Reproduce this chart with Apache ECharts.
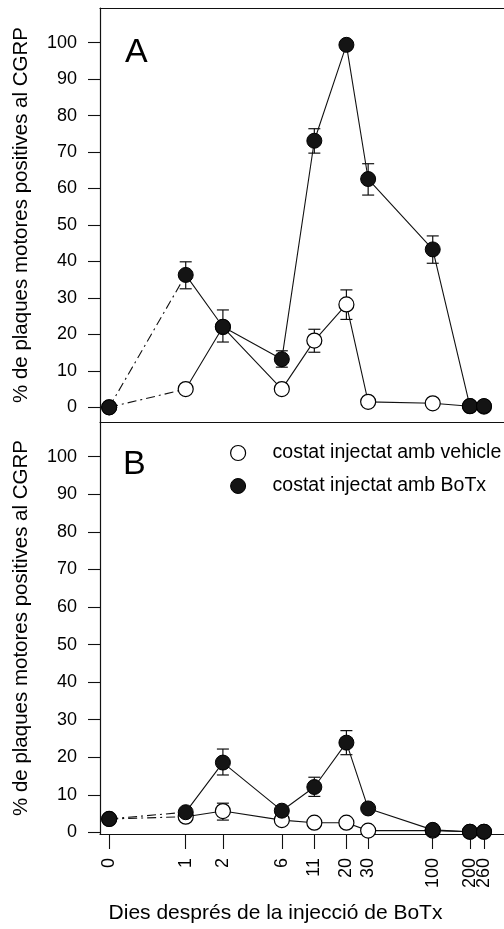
<!DOCTYPE html>
<html><head><meta charset="utf-8">
<script src="https://cdn.jsdelivr.net/npm/echarts@6/dist/echarts.min.js"></script>
<style>html,body{margin:0;padding:0;background:#fff}#c{width:504px;height:929px}</style>
</head><body><div id="c"></div>
<script>
// ---- data ----
const days = [0, 1, 2, 6, 11, 20, 30, 100, 200, 260];
const dayLabels = ['0', '1', '2', '6', '11', '20', '30', '100', '200', '260'];
const yTicks = [0, 10, 20, 30, 40, 50, 60, 70, 80, 90, 100];
const seriesNames = ['costat injectat amb vehicle', 'costat injectat amb BoTx'];
// Panel A
const vehA      = [0, 5, 22, 5, 18.3, 28.2, 1.5, 1.1, 0.3, 0.2];
const vehAErrLo = [null, null, null, null, 15.1, 24.1, null, null, null, null];
const vehAErrHi = [null, null, null, null, 21.4, 32.2, null, null, null, null];
const botA      = [0, 36.3, 22.1, 13.2, 73.1, 99.4, 62.6, 43.3, 0.35, 0.35];
const botAErrLo = [null, 32.5, 17.9, 11.0, 69.7, null, 58.2, 39.5, null, null];
const botAErrHi = [null, 39.9, 26.7, 15.5, 76.4, null, 66.8, 47.0, null, null];
// Panel B
const vehB      = [3.6, 4.2, 5.7, 3.3, 2.6, 2.6, 0.5, 0.5, 0.2, 0.2];
const vehBErrLo = [null, null, 3.3, null, null, null, null, null, null, null];
const vehBErrHi = [null, null, 7.8, null, null, null, null, null, null, null];
const botB      = [3.6, 5.4, 18.6, 5.8, 12.1, 23.9, 6.4, 0.7, 0.2, 0.2];
const botBErrLo = [null, null, 15.3, null, 9.6, 20.7, null, null, null, null];
const botBErrHi = [null, null, 22.2, null, 14.7, 27.1, null, null, null, null];

// ---- axis mapping (log scale of days, with day 0 placed left of day 1 as on the original broken axis) ----
const ZERO_AT = 0.24;
function xPos(d) { return Math.log10(d === 0 ? ZERO_AT : d); }
const tickPos = days.map(xPos);
const X_MIN = -0.694, X_MAX = 2.577;

const INK = '#111';
const FONT = 'Liberation Sans, Arial, sans-serif';

function labelFor(v) {
  let k = 0, best = 1e9;
  tickPos.forEach((t, i) => { if (Math.abs(t - v) < best) { best = Math.abs(t - v); k = i; } });
  return dayLabels[k];
}
function pts(vals, from, to) {
  const out = [];
  for (let i = from; i <= to; i++) if (vals[i] != null) out.push([xPos(days[i]), vals[i]]);
  return out;
}
function groupSeries(panel, name, vals, lo, hi, filled, zBase) {
  const ax = panel === 0 ? {xAxisIndex: 0, yAxisIndex: 0} : {xAxisIndex: 2, yAxisIndex: 1};
  const sym = filled
    ? {color: '#141414', borderColor: '#000', borderWidth: 1, opacity: 1}
    : {color: '#fff', borderColor: '#000', borderWidth: 1.2, opacity: 1};
  const errData = [];
  days.forEach((d, i) => { if (lo[i] != null) errData.push([xPos(d), lo[i], hi[i]]); });
  return [
    Object.assign({type: 'line', name, data: pts(vals, 0, 1), symbol: 'none', z: zBase,
      lineStyle: {color: INK, width: 1.1, type: [9, 4, 2, 4]}, silent: true}, ax),
    Object.assign({type: 'line', name, data: pts(vals, 1, days.length - 1), symbol: 'none', z: zBase,
      lineStyle: {color: INK, width: 1.1}, silent: true}, ax),
    Object.assign({type: 'custom', name, data: errData, z: zBase + 1, silent: true,
      encode: {x: 0, y: [1, 2]},
      renderItem(params, api) {
        const x = api.value(0);
        const p1 = api.coord([x, api.value(1)]);
        const p2 = api.coord([x, api.value(2)]);
        const w = 6;
        const st = {stroke: INK, lineWidth: 1.2};
        return {type: 'group', children: [
          {type: 'line', shape: {x1: p1[0], y1: p1[1], x2: p2[0], y2: p2[1]}, style: st},
          {type: 'line', shape: {x1: p1[0] - w, y1: p1[1], x2: p1[0] + w, y2: p1[1]}, style: st},
          {type: 'line', shape: {x1: p2[0] - w, y1: p2[1], x2: p2[0] + w, y2: p2[1]}, style: st}
        ]};
      }}, ax),
    Object.assign({type: 'scatter', name, data: pts(vals, 0, days.length - 1), symbol: 'circle',
      symbolSize: 15, z: zBase + 2, itemStyle: sym, silent: true}, ax)
  ];
}

const yAxisCommon = {
  type: 'value',
  axisLine: {show: true, onZero: false, lineStyle: {color: INK, width: 1.2}},
  axisTick: {show: true, length: 12, customValues: yTicks, lineStyle: {color: INK, width: 1.1}},
  axisLabel: {customValues: yTicks, margin: 23, color: '#000', fontSize: 18, fontFamily: FONT},
  splitLine: {show: false},
  name: '% de plaques motores positives al CGRP',
  nameLocation: 'middle', nameGap: 68,
  nameTextStyle: {color: '#000', fontSize: 20.5, fontFamily: FONT}
};

const lastTick = tickPos.slice(-1);
const otherTicks = tickPos.slice(0, -1);
const xLabelStyle = {rotate: 90, margin: 24, color: '#000', fontSize: 18, fontFamily: FONT,
  hideOverlap: false, showMinLabel: true, showMaxLabel: true, formatter: labelFor};

const option = {
  animation: false,
  backgroundColor: '#fff',
  grid: [
    {left: 100, right: 0, top: 8, height: 414},
    {left: 100, right: 0, top: 422, height: 412}
  ],
  xAxis: [
    {gridIndex: 0, type: 'value', min: X_MIN, max: X_MAX, position: 'bottom',
      axisLine: {show: true, onZero: false, lineStyle: {color: INK, width: 1.2}},
      axisTick: {show: false}, axisLabel: {show: false}, splitLine: {show: false}},
    {gridIndex: 0, type: 'value', min: X_MIN, max: X_MAX, position: 'top',
      axisLine: {show: true, onZero: false, lineStyle: {color: INK, width: 1.2}},
      axisTick: {show: false}, axisLabel: {show: false}, splitLine: {show: false}},
    {gridIndex: 1, type: 'value', min: X_MIN, max: X_MAX, position: 'bottom',
      axisLine: {show: true, onZero: false, lineStyle: {color: INK, width: 1.2}},
      axisTick: {show: true, length: 15, customValues: tickPos, lineStyle: {color: INK, width: 1.1}},
      axisLabel: Object.assign({customValues: otherTicks}, xLabelStyle),
      splitLine: {show: false},
      name: 'Dies després de la injecció de BoTx', nameLocation: 'middle', nameGap: 69,
      nameTextStyle: {color: '#000', fontSize: 21, fontFamily: FONT, padding: [0, 53, 0, 0]}},
    {gridIndex: 1, type: 'value', min: X_MIN, max: X_MAX, position: 'bottom',
      axisLine: {show: false, onZero: false}, axisTick: {show: false}, splitLine: {show: false},
      axisLabel: Object.assign({customValues: lastTick}, xLabelStyle)}
  ],
  yAxis: [
    Object.assign({gridIndex: 0, min: -4.03, max: 109.5}, yAxisCommon),
    Object.assign({gridIndex: 1, min: -0.4, max: 109.2}, yAxisCommon)
  ],
  legend: {
    left: 225, top: 438, orient: 'vertical', itemWidth: 15, itemHeight: 15, itemGap: 13,
    textStyle: {color: '#000', fontSize: 19.5, fontFamily: FONT, lineHeight: 16, padding: [0, 0, 0, 22]},
    selectedMode: false,
    data: [
      {name: seriesNames[0], icon: 'circle', itemStyle: {color: '#fff', borderColor: '#000', borderWidth: 1.2}},
      {name: seriesNames[1], icon: 'circle', itemStyle: {color: '#141414', borderColor: '#000', borderWidth: 1}}
    ]
  },
  graphic: [
    {type: 'text', left: 125, top: 36, style: {text: 'A', fontSize: 34, fontFamily: FONT, fill: '#000'}},
    {type: 'text', left: 123, top: 448, style: {text: 'B', fontSize: 34, fontFamily: FONT, fill: '#000'}}
  ],
  series: [].concat(
    groupSeries(0, seriesNames[0], vehA, vehAErrLo, vehAErrHi, false, 2),
    groupSeries(0, seriesNames[1], botA, botAErrLo, botAErrHi, true, 6),
    groupSeries(1, seriesNames[0], vehB, vehBErrLo, vehBErrHi, false, 2),
    groupSeries(1, seriesNames[1], botB, botBErrLo, botBErrHi, true, 6)
  )
};
const chart = echarts.init(document.getElementById('c'), null, {renderer: 'canvas'});
chart.setOption(option);
</script>
</body></html>
